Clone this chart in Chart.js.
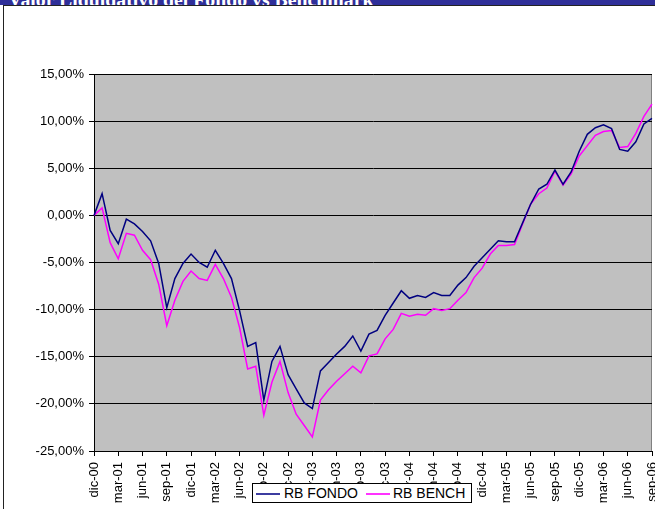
<!DOCTYPE html>
<html>
<head>
<meta charset="utf-8">
<script src="https://cdn.jsdelivr.net/npm/chart.js@4.4.0/dist/chart.umd.min.js"></script>
<style>
  body { margin: 0; background: #fff; }
  #wrap { position: relative; width: 655px; height: 509px; overflow: hidden; }
  #titleBar { position: absolute; left: 0; top: 0; width: 655px; height: 5px; background: #2f2f99; overflow: hidden; }
  #titleBar span { position: absolute; left: 8px; top: -12px; line-height: 20px; white-space: nowrap;
    font: bold 19.8px "Liberation Serif", "Times New Roman", serif; color: #fff; }
  #frame { position: absolute; left: 3px; top: 5px; width: 700px; height: 600px;
    border-left: 1.5px solid #222; border-top: 1px solid #222; }
  #chart { position: absolute; left: 0; top: 0; }
  #legend { position: absolute; left: 252px; top: 483px; width: 218px; height: 18px; background: #fff;
    border: 1px solid #000; font: 14px "Liberation Sans", Arial, sans-serif; color: #000; }
  .sw { position: absolute; top: 9px; width: 24px; height: 0; border-top: 2px solid; }
  .lt { position: absolute; top: 0; line-height: 18px; white-space: nowrap; }
</style>
</head>
<body>
<div id="wrap">
  <div id="titleBar"><span>Valor Liquidativo del Fondo vs Benchmark</span></div>
  <div id="frame"></div>
  <canvas id="chart" width="655" height="509"></canvas>
  <div id="legend">
    <div class="sw" style="left:3px;border-color:#3c3ca0"></div><div class="lt" style="left:31px">RB FONDO</div>
    <div class="sw" style="left:113px;border-color:#ff33ff"></div><div class="lt" style="left:140px">RB BENCH</div>
  </div>
</div>
<script>
const months = [
  'dic-00',
  'ene-01','feb-01','mar-01','abr-01','may-01','jun-01','jul-01','ago-01','sep-01','oct-01','nov-01','dic-01',
  'ene-02','feb-02','mar-02','abr-02','may-02','jun-02','jul-02','ago-02','sep-02','oct-02','nov-02','dic-02',
  'ene-03','feb-03','mar-03','abr-03','may-03','jun-03','jul-03','ago-03','sep-03','oct-03','nov-03','dic-03',
  'ene-04','feb-04','mar-04','abr-04','may-04','jun-04','jul-04','ago-04','sep-04','oct-04','nov-04','dic-04',
  'ene-05','feb-05','mar-05','abr-05','may-05','jun-05','jul-05','ago-05','sep-05','oct-05','nov-05','dic-05',
  'ene-06','feb-06','mar-06','abr-06','may-06','jun-06','jul-06','ago-06','sep-06'
];

// % vs start
const rbFondo = [
  0, 2.3, -1.6, -3.0, -0.4, -0.9, -1.7, -2.7, -5.1, -9.8,
  -6.7, -5.1, -4.1, -5.0, -5.5, -3.7, -5.1, -6.7, -10.1, -13.9,
  -13.5, -19.6, -15.5, -13.9, -16.9, -18.4, -19.9, -20.5, -16.5, -15.6,
  -14.7, -13.9, -12.8, -14.4, -12.6, -12.2, -10.6, -9.3, -8.0, -8.8,
  -8.5, -8.7, -8.2, -8.5, -8.5, -7.4, -6.6, -5.4, -4.5, -3.6,
  -2.7, -2.8, -2.8, -0.8, 1.2, 2.8, 3.3, 4.8, 3.3, 4.6,
  6.8, 8.6, 9.3, 9.6, 9.2, 7.0, 6.8, 7.8, 9.7, 10.3
];
const rbBench = [
  0, 0.8, -2.9, -4.6, -1.9, -2.1, -3.7, -4.7, -7.3, -11.7,
  -9.0, -7.0, -5.9, -6.7, -6.9, -5.2, -6.7, -8.7, -11.9, -16.3,
  -16.0, -21.2, -17.7, -15.5, -18.8, -21.1, -22.3, -23.5, -19.6, -18.5,
  -17.6, -16.8, -16.0, -16.7, -14.9, -14.7, -13.1, -12.1, -10.4, -10.7,
  -10.5, -10.6, -9.9, -10.1, -9.9, -9.0, -8.2, -6.6, -5.6, -4.1,
  -3.2, -3.2, -3.1, -0.9, 1.2, 2.3, 2.9, 4.7, 3.2, 4.4,
  6.3, 7.4, 8.5, 8.9, 9.0, 7.2, 7.3, 8.7, 10.5, 11.8
];
const yMin = -25, yMax = 15, yStep = 5;

const plotBg = {
  id: 'plotBg',
  beforeDraw(chart) {
    const { ctx, chartArea: a } = chart;
    ctx.save();
    ctx.fillStyle = '#c0c0c0';
    ctx.fillRect(a.left, a.top, a.right - a.left, a.bottom - a.top);
    ctx.strokeStyle = '#808080';
    ctx.lineWidth = 1;
    ctx.beginPath();
    ctx.moveTo(a.left, a.top + 0.5);
    ctx.lineTo(a.right - 0.5, a.top + 0.5);
    ctx.lineTo(a.right - 0.5, a.bottom);
    ctx.stroke();
    ctx.restore();
  }
};

const font = { family: '"Liberation Sans", Arial, sans-serif', size: 13 };

new Chart(document.getElementById('chart'), {
  type: 'line',
  data: {
    labels: months,
    datasets: [
      { label: 'RB FONDO', data: rbFondo, borderColor: '#000080', borderWidth: 1.5, pointRadius: 0, tension: 0 },
      { label: 'RB BENCH', data: rbBench, borderColor: '#ff00ff', borderWidth: 1.5, pointRadius: 0, tension: 0 }
    ]
  },
  options: {
    responsive: false,
    animation: false,
    events: [],
    layout: { padding: { left: 0, top: 74, right: 3, bottom: 0 } },
    plugins: { legend: { display: false }, tooltip: { enabled: false } },
    scales: {
      x: {
        offset: false,
        grid: {
          drawOnChartArea: false,
          tickLength: 5,
          color: (c) => (c.index % 3 === 0 ? '#000' : 'rgba(0,0,0,0)')
        },
        border: { color: '#000', width: 1 },
        ticks: {
          autoSkip: false,
          maxRotation: 90,
          minRotation: 90,
          padding: 6,
          color: '#000',
          font: font,
          callback: function (v, i) { return i % 3 === 0 ? months[i] : ''; }
        },
        afterFit(scale) { scale.height = 58; scale.paddingLeft = 0; scale.paddingRight = 0; }
      },
      y: {
        min: yMin,
        max: yMax,
        grid: { color: '#000', lineWidth: 1, tickLength: 5 },
        border: { color: '#000', width: 1 },
        ticks: {
          stepSize: yStep,
          padding: 5,
          color: '#000',
          font: font,
          callback: (v) => v.toFixed(2).replace('.', ',') + '%'
        },
        afterFit(scale) { scale.width = 94; }
      }
    }
  },
  plugins: [plotBg]
});
</script>
</body>
</html>
